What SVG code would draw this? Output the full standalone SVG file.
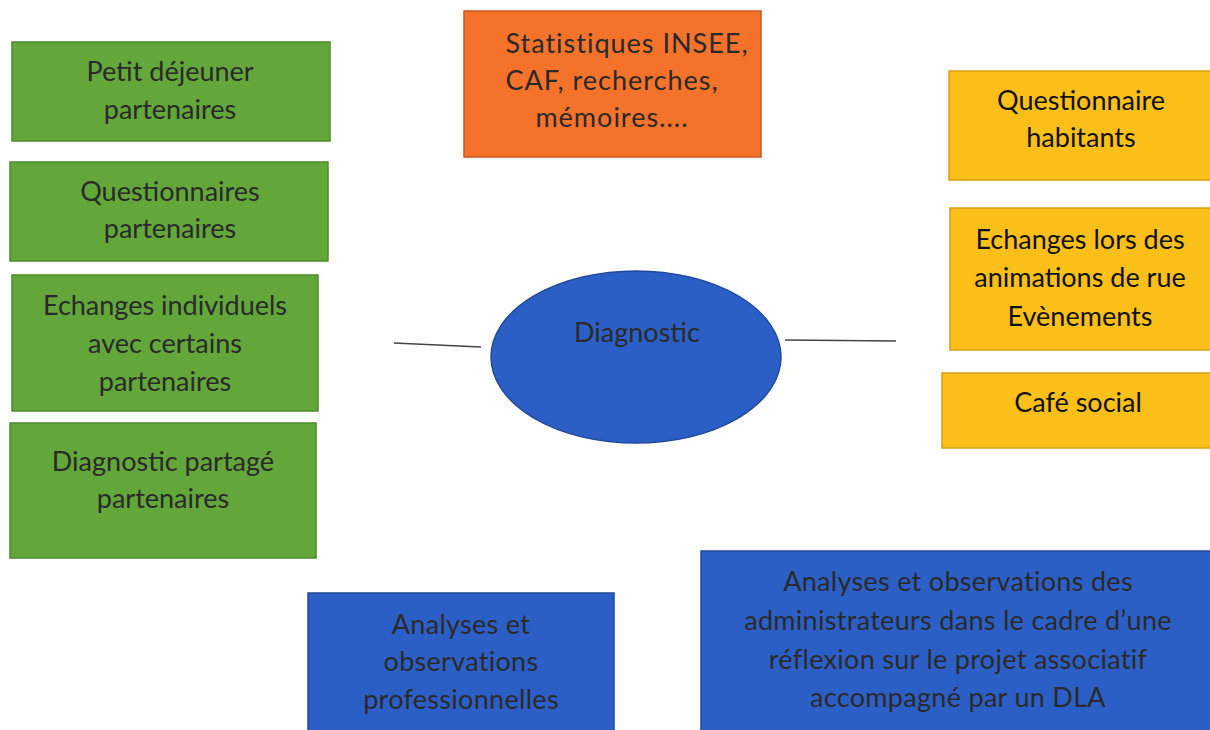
<svg xmlns="http://www.w3.org/2000/svg" width="1210" height="730" viewBox="0 0 1210 730">
<style>
text{font-family:"Lato","Open Sans","Liberation Sans",sans-serif;font-size:27px;text-anchor:middle;fill:#2a2a2a}
.g{fill:#63a63a;stroke:#4f8a2c;stroke-width:1.5}
.o{fill:#f5722a;stroke:#c9581c;stroke-width:1.5}
.y{fill:#fbbf19;stroke:#d7a010;stroke-width:1.5}
.b{fill:#2c5fc6;stroke:#22499c;stroke-width:1.5}
.yt{fill:#111}
.ot{letter-spacing:1px}
.bt{letter-spacing:0.3px}
.conn{stroke:#444;stroke-width:1.5;fill:none}
</style>
<rect width="1210" height="730" fill="#fff"/>
<g id="connectors">
<line class="conn" x1="394" y1="343" x2="481" y2="347"/>
<line class="conn" x1="785" y1="340" x2="896" y2="341"/>
</g>
<g id="n_petit"><rect class="g" x="12" y="42" width="318" height="99"/><text x="170" y="81">Petit déjeuner</text><text x="170" y="119">partenaires</text></g>
<g id="n_quest"><rect class="g" x="10" y="162" width="318" height="99"/><text x="170" y="201">Questionnaires</text><text x="170" y="238">partenaires</text></g>
<g id="n_echanges"><rect class="g" x="12" y="275" width="306" height="136"/><text x="165" y="315">Echanges individuels</text><text x="165" y="353">avec certains</text><text x="165" y="391">partenaires</text></g>
<g id="n_diagpart"><rect class="g" x="10" y="423" width="306" height="135"/><text x="163" y="471">Diagnostic partagé</text><text x="163" y="508">partenaires</text></g>
<g id="n_stats"><rect class="o" x="464" y="11" width="297" height="146"/><text class="ot" x="627" y="53">Statistiques INSEE,</text><text class="ot" x="612" y="90">CAF, recherches,</text><text class="ot" x="612" y="127">mémoires....</text></g>
<g id="n_qhab"><rect class="y" x="949" y="71" width="265" height="109"/><text class="yt" x="1081" y="110">Questionnaire</text><text class="yt" x="1081" y="147">habitants</text></g>
<g id="n_anim"><rect class="y" x="950" y="208" width="264" height="142"/><text class="yt" x="1080" y="249">Echanges lors des</text><text class="yt" x="1080" y="287">animations de rue</text><text class="yt" x="1080" y="326">Evènements</text></g>
<g id="n_cafe"><rect class="y" x="942" y="373" width="272" height="75"/><text class="yt" x="1078" y="412">Café social</text></g>
<g id="n_diag"><ellipse class="b" cx="636" cy="357" rx="145" ry="86"/><text x="637" y="342">Diagnostic</text></g>
<g id="n_pro"><rect class="b" x="308" y="593" width="306" height="140"/><text class="bt" x="461" y="634">Analyses et</text><text class="bt" x="461" y="671">observations</text><text class="bt" x="461" y="709">professionnelles</text></g>
<g id="n_admin"><rect class="b" x="701" y="551" width="513" height="182"/><text class="bt" x="958" y="591">Analyses et observations  des</text><text class="bt" x="958" y="630">administrateurs dans le cadre d’une</text><text class="bt" x="958" y="669">réflexion sur le projet associatif</text><text class="bt" x="958" y="707">accompagné par un DLA</text></g>
</svg>
